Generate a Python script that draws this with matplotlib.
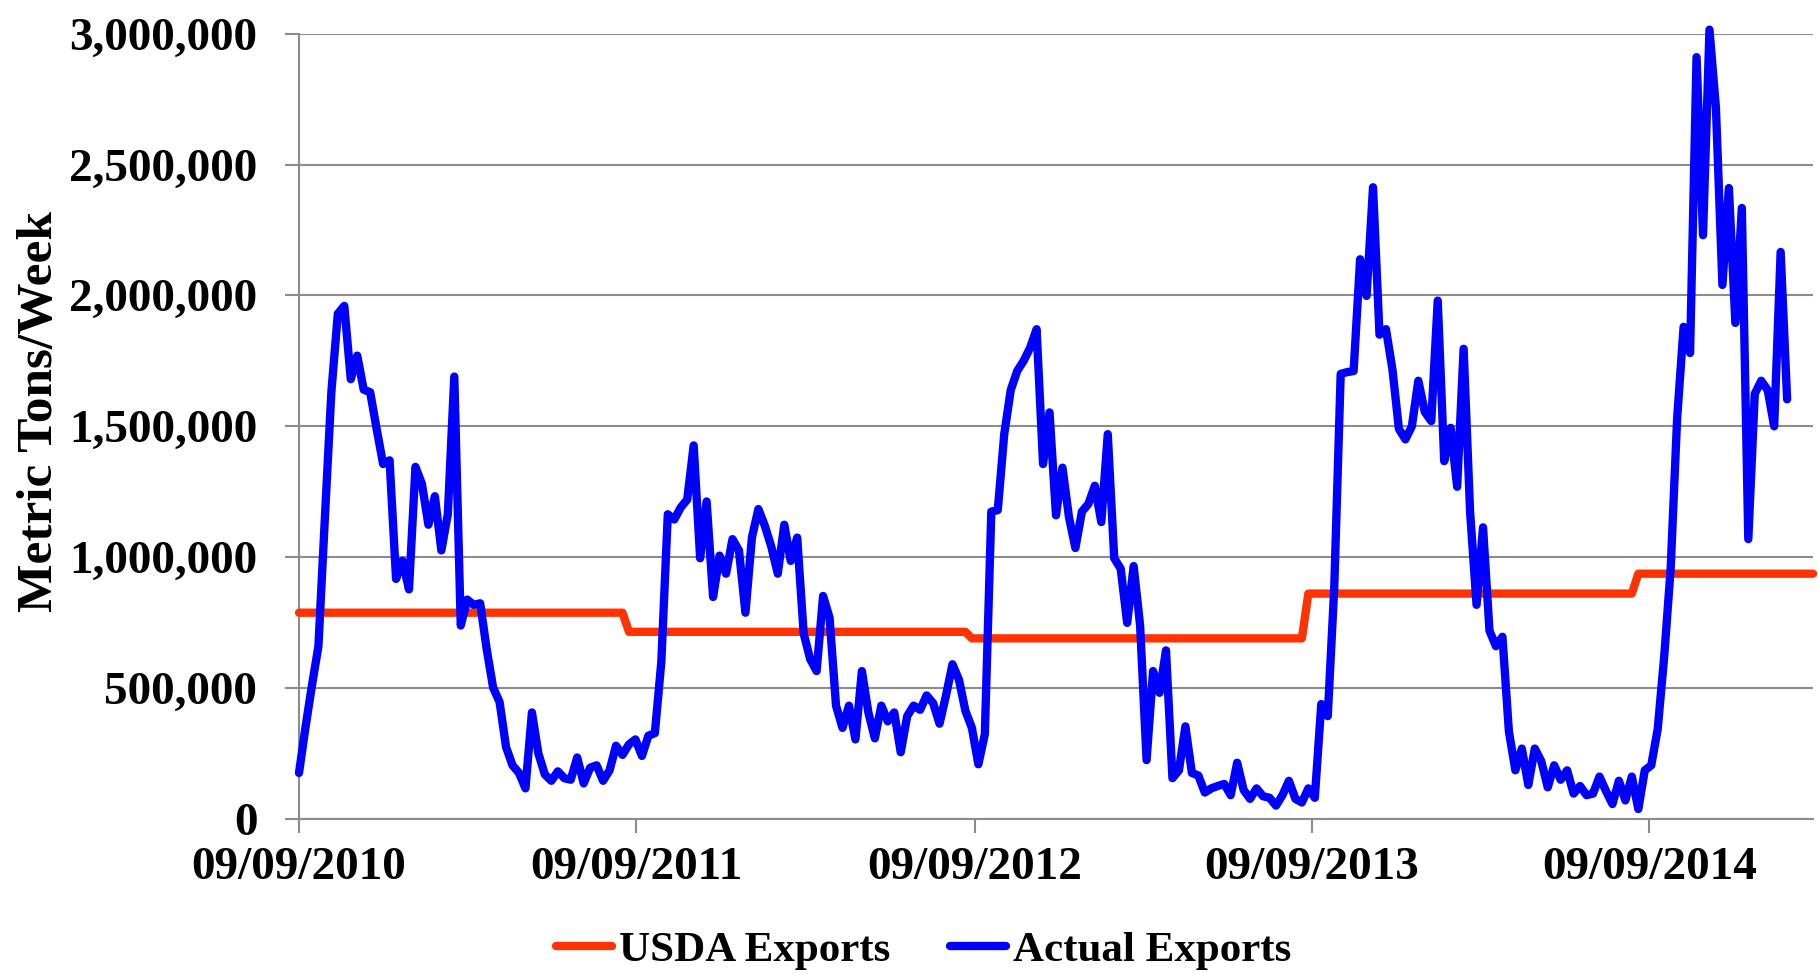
import numpy as np
import pandas as pd
import matplotlib
matplotlib.use("Agg")
import matplotlib.pyplot as plt
import matplotlib.dates as mdates
from matplotlib.ticker import FuncFormatter

plt.rcParams['font.family'] = ['Liberation Serif', 'DejaVu Serif']
plt.rcParams['font.weight'] = 'bold'

# weekly actual exports, metric tons (thousands), starting 09/09/2010
actual_k = [
    176, 350, 510, 660, 1150, 1630, 1930, 1960, 1680, 1770,
    1640, 1630, 1490, 1356, 1370, 917, 986, 877, 1345, 1280,
    1124, 1233, 1026, 1164, 1690, 739, 838, 818, 824, 650,
    502, 447, 275, 205, 176, 117, 407, 250, 170, 146,
    182, 156, 150, 235, 136, 196, 205, 146, 186, 280,
    245, 285, 304, 241, 318, 328, 600, 1164, 1144, 1190,
    1220, 1427, 996, 1213, 848, 1006, 937, 1069, 1026, 788,
    1075, 1184, 1120, 1040, 937, 1124, 986, 1075, 709, 611,
    565, 852, 769, 433, 348, 433, 304, 565, 407, 308,
    433, 373, 407, 255, 393, 433, 417, 472, 443, 364,
    472, 591, 532, 413, 348, 209, 324, 1174, 1180, 1470,
    1638, 1711, 1750, 1800, 1871, 1356, 1553, 1160, 1342, 1154,
    1035, 1174, 1203, 1273, 1134, 1470, 996, 956, 749, 966,
    739, 225, 565, 482, 644, 156, 186, 354, 176, 166,
    101, 117, 126, 134, 91, 215, 111, 77, 117, 87,
    81, 51, 91, 146, 77, 63, 117, 81, 439, 393,
    880, 1700, 1707, 1711, 2138, 1998, 2413, 1850, 1871, 1717,
    1490, 1450, 1500, 1674, 1555, 1520, 1980, 1367, 1494, 1269,
    1796, 1174, 818, 1114, 719, 660, 696, 334, 186, 269,
    130, 269, 221, 121, 205, 150, 186, 97, 126, 91,
    97, 162, 107, 57, 146, 71, 162, 38, 186, 205,
    344, 620, 956, 1530, 1880, 1780, 2910, 2230, 3015, 2715,
    2040, 2410, 1895, 2334, 1069, 1624, 1674, 1638, 1500, 2166,
    1603,
]

# USDA projected weekly exports per marketing year (thousand t) and weeks shown
usda_levels_k = [788, 715, 690, 861, 937]
usda_weeks = [51, 53, 52, 51, 28]

tick_dates = ["2010-09-09", "2011-09-09", "2012-09-09", "2013-09-09", "2014-09-09"]

usda = np.repeat(np.array(usda_levels_k) * 1000.0, usda_weeks)
actual = np.array(actual_k) * 1000.0
dates = pd.date_range("2010-09-09", periods=len(usda), freq="7D")

fig = plt.figure(figsize=(18.18, 9.74), dpi=100)
ax = fig.add_axes([299 / 1818, 1 - 819 / 974, 1514 / 1818, (819 - 33.6) / 974])

grid_c = "#8c8c8c"
ax.plot(dates, usda, color="#ff3300", lw=6, label="USDA Exports",
        solid_joinstyle="round", solid_capstyle="round", clip_on=False, zorder=3)
ax.plot(dates[:len(actual)], actual, color="#0000ff", lw=6, label="Actual Exports",
        solid_joinstyle="round", solid_capstyle="round", clip_on=False, zorder=4)

ax.set_xlim(dates[0], dates[-1])
ax.set_ylim(0, 3000000)
ax.set_yticks(np.arange(0, 3000001, 500000))
ax.yaxis.set_major_formatter(FuncFormatter(lambda v, p: f"{int(v):,}"))
ax.set_xticks(pd.to_datetime(tick_dates))
ax.xaxis.set_major_formatter(mdates.DateFormatter("%m/%d/%Y"))

ax.grid(axis="y", color=grid_c, lw=1.5)
ax.set_axisbelow(True)
for s in ["top", "right"]:
    ax.spines[s].set_visible(False)
for s in ["left", "bottom"]:
    ax.spines[s].set_color(grid_c)
    ax.spines[s].set_linewidth(1.5)

ax.tick_params(axis="both", color=grid_c, width=1.5, length=10, labelsize=34)
ax.tick_params(axis="y", pad=20)
ax.tick_params(axis="x", pad=10)

fig.text(40 / 1818, 1 - 412 / 974, "Metric Tons/Week", rotation=90,
         ha="center", va="center", fontsize=37, fontweight="bold")

fig.legend(loc="center", bbox_to_anchor=(0.508, 0.024), ncol=2, frameon=False,
           fontsize=31, handlelength=1.3, handletextpad=0.15, columnspacing=1.4)

fig.savefig("out.png", dpi=100)
